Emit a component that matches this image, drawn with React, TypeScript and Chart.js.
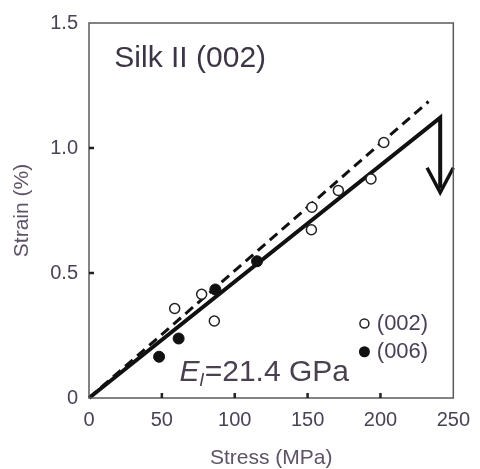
import React, { useEffect, useRef } from "react";
import { Chart, registerables } from "chart.js";

Chart.register(...registerables);

const FONT = "'Liberation Sans', Arial, Helvetica, sans-serif";

// (002) reflection – open circles
const openStress = [58.8, 77.3, 86.0, 152.6, 153.0, 171.1, 193.5, 202.3];
const openStrain = [0.358, 0.415, 0.308, 0.673, 0.763, 0.83, 0.876, 1.022];
// (006) reflection – filled circles
const filledStress = [48.1, 61.5, 86.7, 115.3];
const filledStrain = [0.165, 0.238, 0.434, 0.547];
// solid fit line (E = 21.4 GPa) ending in a drop
const fitStress = [0, 241, 241];
const fitStrain = [0, 1.121, 0.84];
// arrow head at the end of the drop
const arrowStress = [232, 241, 250];
const arrowStrain = [0.921, 0.822, 0.921];
// dashed line
const dashStress = [0, 233];
const dashStrain = [0, 1.186];

const xTicks = [0, 50, 100, 150, 200, 250];
const yTicks = [0, 0.5, 1.0, 1.5];
const yTickLabels = ["0", "0.5", "1.0", "1.5"];

const titleText = "Silk II (002)";
const modulusLabel = "=21.4 GPa";
const legendLabels = ["(002)", "(006)"];

const pts = (xs: number[], ys: number[]) => xs.map((x, i) => ({ x, y: ys[i] }));

const overlay = {
  id: "overlay",
  afterDatasetsDraw(chart: any) {
    const { ctx, chartArea: a, scales } = chart;
    const xs = scales.x;
    const ys = scales.y;
    ctx.save();
    // frame
    ctx.strokeStyle = "#5a5a5a";
    ctx.lineWidth = 1.5;
    ctx.strokeRect(a.left, a.top, a.right - a.left, a.bottom - a.top);
    // inward ticks
    ctx.strokeStyle = "#222";
    ctx.lineWidth = 2.5;
    ctx.beginPath();
    xTicks.slice(1, -1).forEach((v) => {
      const px = xs.getPixelForValue(v);
      ctx.moveTo(px, a.bottom);
      ctx.lineTo(px, a.bottom - 5);
    });
    yTicks.slice(1, -1).forEach((v) => {
      const py = ys.getPixelForValue(v);
      ctx.moveTo(a.left, py);
      ctx.lineTo(a.left + 5, py);
    });
    ctx.stroke();

    // title
    ctx.fillStyle = "#3d3545";
    ctx.textBaseline = "middle";
    ctx.textAlign = "left";
    ctx.font = `30px ${FONT}`;
    ctx.fillText(titleText, xs.getPixelForValue(17.4), ys.getPixelForValue(1.357));

    // modulus label E_l=21.4 GPa
    ctx.fillStyle = "#4a4050";
    let x0 = xs.getPixelForValue(62.1);
    const y0 = ys.getPixelForValue(0.112);
    ctx.font = `italic 30px ${FONT}`;
    ctx.textBaseline = "alphabetic";
    const base = y0 + 11;
    ctx.fillText("E", x0, base);
    x0 += ctx.measureText("E").width;
    ctx.font = `italic 19px ${FONT}`;
    ctx.fillText("l", x0, base + 5);
    x0 += ctx.measureText("l").width + 1;
    ctx.font = `30px ${FONT}`;
    ctx.fillText(modulusLabel, x0, base);

    // legend
    const lx = xs.getPixelForValue(189);
    const ly1 = ys.getPixelForValue(0.298);
    const ly2 = ys.getPixelForValue(0.185);
    ctx.lineWidth = 1.5;
    ctx.strokeStyle = "#222";
    ctx.fillStyle = "#fff";
    ctx.beginPath();
    ctx.arc(lx, ly1, 4.5, 0, Math.PI * 2);
    ctx.fill();
    ctx.stroke();
    ctx.fillStyle = "#111";
    ctx.beginPath();
    ctx.arc(lx, ly2, 5.5, 0, Math.PI * 2);
    ctx.fill();
    ctx.fillStyle = "#4a4058";
    ctx.font = `22px ${FONT}`;
    ctx.textBaseline = "middle";
    const tx = xs.getPixelForValue(197.5);
    ctx.fillText(legendLabels[0], tx, ly1);
    ctx.fillText(legendLabels[1], tx, ly2);
    ctx.restore();
  },
};

export default function App() {
  const ref = useRef<HTMLCanvasElement>(null);
  useEffect(() => {
    document.body.style.margin = "0";
    const chart = new Chart(ref.current!, {
      type: "scatter",
      data: {
        datasets: [
          {
            label: "(002)",
            data: pts(openStress, openStrain),
            pointRadius: 5,
            pointBackgroundColor: "#fff",
            pointBorderColor: "#222",
            pointBorderWidth: 1.5,
            showLine: false,
          },
          {
            label: "(006)",
            data: pts(filledStress, filledStrain),
            pointRadius: 5.5,
            pointBackgroundColor: "#111",
            pointBorderColor: "#111",
            pointBorderWidth: 1,
            showLine: false,
          },
          {
            label: "fit",
            data: pts(fitStress, fitStrain),
            showLine: true,
            borderColor: "#111",
            borderWidth: 4,
            borderJoinStyle: "miter",
            pointRadius: 0,
            clip: false,
          } as any,
          {
            label: "arrow",
            data: pts(arrowStress, arrowStrain),
            showLine: true,
            borderColor: "#111",
            borderWidth: 3.5,
            borderJoinStyle: "miter",
            pointRadius: 0,
            clip: false,
          } as any,
          {
            label: "dashed",
            data: pts(dashStress, dashStrain),
            showLine: true,
            borderColor: "#111",
            borderWidth: 3,
            borderDash: [10, 6],
            pointRadius: 0,
          },
        ],
      },
      options: {
        animation: false,
        responsive: true,
        maintainAspectRatio: false,
        layout: { padding: { top: 22, right: 18, left: 0, bottom: 0 } },
        plugins: { legend: { display: false }, tooltip: { enabled: false } },
        scales: {
          x: {
            type: "linear",
            min: 0,
            max: 250,
            afterBuildTicks: (s: any) => {
              s.ticks = xTicks.map((v) => ({ value: v }));
            },
            afterFit: (s: any) => {
              s.height = 71;
            },
            grid: { display: false, drawTicks: false },
            border: { display: false },
            ticks: {
              padding: 10,
              color: "#4b4255",
              font: { family: FONT, size: 20 },
              maxRotation: 0,
            },
            title: {
              display: true,
              text: "Stress (MPa)",
              color: "#5e5266",
              font: { family: FONT, size: 21, lineHeight: 1 },
              padding: { top: 0, bottom: 0 },
            },
          },
          y: {
            type: "linear",
            min: 0,
            max: 1.5,
            afterBuildTicks: (s: any) => {
              s.ticks = yTicks.map((v) => ({ value: v }));
            },
            afterFit: (s: any) => {
              s.width = 89;
            },
            grid: { display: false, drawTicks: false },
            border: { display: false },
            ticks: {
              padding: 11,
              color: "#4b4255",
              font: { family: FONT, size: 20 },
              callback: (v: any) => {
                const i = yTicks.indexOf(Number(v));
                return i >= 0 ? yTickLabels[i] : "";
              },
            },
            title: {
              display: true,
              text: "Strain (%)",
              color: "#5e5266",
              font: { family: FONT, size: 21, lineHeight: 1 },
              padding: { top: 12, bottom: 0 },
            },
          },
        },
      },
      plugins: [overlay],
    });
    return () => chart.destroy();
  }, []);
  return (
    <div style={{ position: "absolute", left: 0, top: 0, width: 480, height: 469 }}>
      <canvas ref={ref} />
    </div>
  );
}
